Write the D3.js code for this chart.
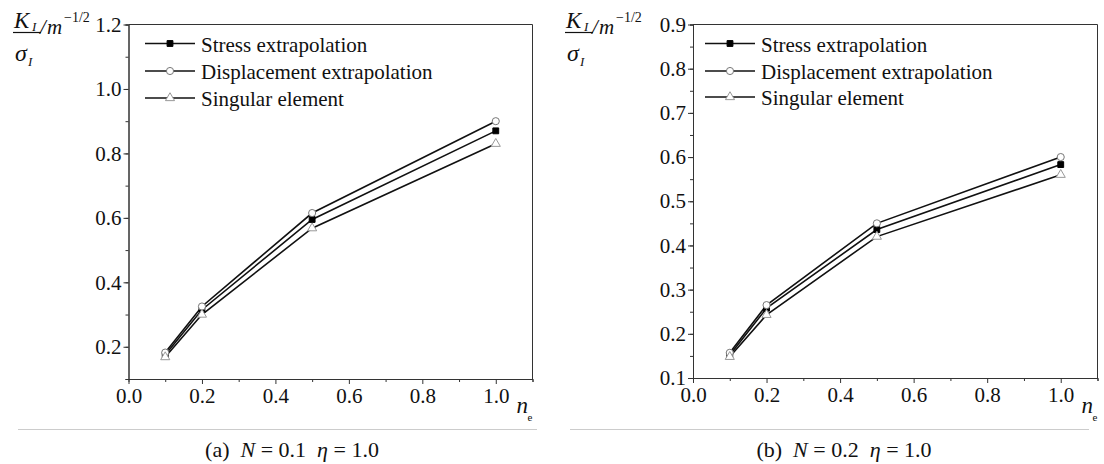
<!DOCTYPE html>
<html>
<head>
<meta charset="utf-8">
<script src="https://cdn.jsdelivr.net/npm/d3@7"></script>
<style>
  body { margin: 0; background: #fff; }
  svg, svg text { font-family: "Liberation Serif", "Times New Roman", serif !important; }
</style>
</head>
<body>
<svg id="chart" width="1104" height="464"></svg>
<script>
// data
var neValues = [0.1, 0.2, 0.5, 1.0];
var seriesNames = ["Stress extrapolation", "Displacement extrapolation", "Singular element"];

// (a) N = 0.1
var stressA = [0.175, 0.315, 0.595, 0.870];
var dispA   = [0.182, 0.325, 0.615, 0.900];
var singA   = [0.168, 0.300, 0.568, 0.830];

// (b) N = 0.2
var stressB = [0.152, 0.258, 0.436, 0.583];
var dispB   = [0.157, 0.265, 0.450, 0.600];
var singB   = [0.148, 0.243, 0.420, 0.560];

var xTickVals = [0.0, 0.2, 0.4, 0.6, 0.8, 1.0];
var yTickValsA = [0.2, 0.4, 0.6, 0.8, 1.0, 1.2];
var yTickValsB = [0.1, 0.2, 0.3, 0.4, 0.5, 0.6, 0.7, 0.8, 0.9];
var captions = ["(a)", "(b)"];
var captionN = ["0.1", "0.2"];

var svg = d3.select("#chart");
var axisColor = "#333";
var lineColor = "#111";

// panel setup
var panels = [
  {off: 0, x0: 128.5, x1: 532.5, yTop: 24.5, yBot: 379, yDomain: [0.1, 1.2],
   yTicks: yTickValsA, yMinor: d3.range(0.1, 1.21, 0.1), series: [stressA, dispA, singA],
   legendX: 145, legendY: [43.5, 71, 98]},
  {off: 552, x0: 693, x1: 1097.5, yTop: 24.5, yBot: 378, yDomain: [0.1, 0.9],
   yTicks: yTickValsB, yMinor: d3.range(0.1, 0.91, 0.05), series: [stressB, dispB, singB],
   legendX: 705, legendY: [43.5, 71, 97]}
];

var symbols = [
  {type: d3.symbolSquare, size: 34, fill: "#000", stroke: "#000"},
  {type: d3.symbolCircle, size: 40, fill: "#fff", stroke: "#777"},
  {type: d3.symbolTriangle, size: 36, fill: "#fff", stroke: "#999"}
];

panels.forEach(function(p, pi) {
  var x = d3.scaleLinear().domain([0, 1.1]).range([p.x0, p.x1]);
  var y = d3.scaleLinear().domain(p.yDomain).range([p.yBot, p.yTop]);
  var g = svg.append("g");

  // frame (top and right)
  g.append("line").attr("x1", p.x0).attr("x2", p.x1).attr("y1", p.yTop).attr("y2", p.yTop)
    .attr("stroke", axisColor).attr("stroke-width", 1);
  g.append("line").attr("x1", p.x1).attr("x2", p.x1).attr("y1", p.yTop).attr("y2", p.yBot)
    .attr("stroke", axisColor).attr("stroke-width", 1);

  // x axis: minor ticks then major
  var xMinor = d3.axisBottom(x).tickValues(d3.range(0.1, 1.11, 0.2)).tickSize(3).tickFormat("");
  g.append("g").attr("transform", "translate(0," + p.yBot + ")").call(xMinor);
  var xAxis = d3.axisBottom(x).tickValues(xTickVals).tickSize(5).tickSizeOuter(0)
    .tickPadding(4).tickFormat(d3.format(".1f"));
  g.append("g").attr("class", "x-axis").attr("transform", "translate(0," + p.yBot + ")").call(xAxis);

  // y axis
  var yMinor = d3.axisLeft(y).tickValues(p.yMinor).tickSize(3).tickFormat("");
  g.append("g").attr("transform", "translate(" + p.x0 + ",0)").call(yMinor);
  var yAxis = d3.axisLeft(y).tickValues(p.yTicks).tickSize(5).tickSizeOuter(0)
    .tickPadding(2).tickFormat(d3.format(".1f"));
  g.append("g").attr("class", "y-axis").attr("transform", "translate(" + p.x0 + ",0)").call(yAxis);

  g.selectAll("g").attr("font-family", null);
  g.selectAll(".domain").attr("stroke", axisColor);
  g.selectAll(".tick line").attr("stroke", axisColor);
  g.selectAll(".tick text").attr("fill", "#111").attr("font-size", 21);

  // series lines
  var line = d3.line()
    .x(function(d, i) { return x(neValues[i]); })
    .y(function(d) { return y(d); });

  p.series.forEach(function(vals) {
    g.append("path").datum(vals)
      .attr("d", line)
      .attr("fill", "none")
      .attr("stroke", lineColor)
      .attr("stroke-width", 1.6);
  });
  p.series.forEach(function(vals, si) {
    var s = symbols[si];
    g.selectAll(".pt" + si).data(vals).enter().append("path")
      .attr("class", "pt" + si)
      .attr("d", d3.symbol().type(s.type).size(s.size))
      .attr("transform", function(d, i) { return "translate(" + x(neValues[i]) + "," + y(d) + ")"; })
      .attr("fill", s.fill).attr("stroke", s.stroke).attr("stroke-width", 1);
  });

  // legend
  seriesNames.forEach(function(name, si) {
    var ly = p.legendY[si];
    var s = symbols[si];
    g.append("line").attr("x1", p.legendX).attr("x2", p.legendX + 50)
      .attr("y1", ly).attr("y2", ly).attr("stroke", lineColor).attr("stroke-width", 1.6);
    g.append("path").attr("d", d3.symbol().type(s.type).size(s.size))
      .attr("transform", "translate(" + (p.legendX + 25) + "," + ly + ")")
      .attr("fill", s.fill).attr("stroke", s.stroke);
    g.append("text").attr("x", p.legendX + 56).attr("y", ly + 8)
      .attr("font-size", 21).attr("fill", "#111").text(name);
  });

  // y label: K_I / sigma_I / m^-1/2
  var lx = p.off + 13;
  var lab = g.append("g").attr("fill", "#111");
  lab.append("text").attr("x", lx + 1).attr("y", 28).attr("font-size", 23)
    .attr("font-style", "italic").text("K");
  lab.append("text").attr("x", lx + 19).attr("y", 31).attr("font-size", 13)
    .attr("font-style", "italic").text("I");
  lab.append("line").attr("x1", lx).attr("x2", lx + 28).attr("y1", 32.5).attr("y2", 32.5)
    .attr("stroke", "#111").attr("stroke-width", 1.2);
  lab.append("text").attr("x", lx + 2).attr("y", 61).attr("font-size", 24)
    .attr("font-style", "italic").text("σ");
  lab.append("text").attr("x", lx + 15).attr("y", 66).attr("font-size", 13)
    .attr("font-style", "italic").text("I");
  lab.append("text").attr("x", lx + 27).attr("y", 34).attr("font-size", 21)
    .attr("font-style", "italic").text("/");
  lab.append("text").attr("x", lx + 34).attr("y", 34).attr("font-size", 21)
    .attr("font-style", "italic").text("m");
  lab.append("text").attr("x", lx + 51).attr("y", 22).attr("font-size", 14)
    .text("−1/2");

  // x label n_e
  g.append("text").attr("x", p.x1 - 16).attr("y", 413).attr("font-size", 23)
    .attr("font-style", "italic").attr("fill", "#111").text("n");
  g.append("text").attr("x", p.x1 - 5).attr("y", 421).attr("font-size", 11)
    .attr("fill", "#111").text("e");

  // separator line
  g.append("line").attr("x1", p.off + 18).attr("x2", p.off + 537)
    .attr("y1", 429.5).attr("y2", 429.5).attr("stroke", "#ccc").attr("stroke-width", 1);

  // caption
  var cap = g.append("text").attr("x", p.off + 292).attr("y", 457)
    .attr("text-anchor", "middle").attr("font-size", 22).attr("fill", "#111");
  cap.append("tspan").text(captions[pi] + "\u00a0\u00a0");
  cap.append("tspan").attr("font-style", "italic").text("N");
  cap.append("tspan").text(" = " + captionN[pi] + "\u00a0\u00a0");
  cap.append("tspan").attr("font-style", "italic").text("η");
  cap.append("tspan").text(" = 1.0");
});
</script>
</body>
</html>
